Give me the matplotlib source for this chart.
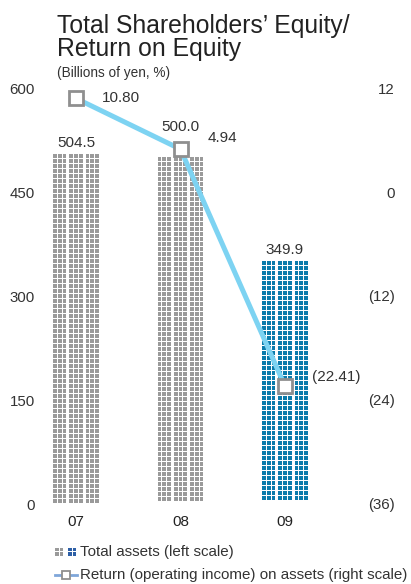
import matplotlib
matplotlib.use("Agg")
import matplotlib.pyplot as plt
from matplotlib.patches import Rectangle
from matplotlib.collections import PatchCollection
from matplotlib.lines import Line2D

# ---- data ----
years = ["07", "08", "09"]
equity = [504.5, 500.0, 349.9]                 # billions of yen (left scale)
roe = [10.80, 4.94, -22.41]                    # % (right scale)
roe_labels = ["10.80", "4.94", "(22.41)"]
left_ticks = [0, 150, 300, 450, 600]
left_tick_labels = ["0", "150", "300", "450", "600"]
right_ticks = [-36, -24, -12, 0, 12]
right_tick_labels = ["(36)", "(24)", "(12)", "0", "12"]

# ---- styling ----
plt.rcParams["font.family"] = ["Liberation Sans", "DejaVu Sans"]
GRAY = "#9a9a9a"
BLUE = "#0a7bab"
LEG_BLUE = "#2d5fa6"
LINE = "#7dd3f2"
MARK_EDGE = "#8f8f8f"
TXT = "#333333"

W, H = 411, 584
fig = plt.figure(figsize=(W / 100, H / 100), dpi=100)

AX_L, AX_B, AX_W, AX_H = 40, 80, 330, 416
X_PITCH = 104.5                      # px between bar centres
ax = fig.add_axes([AX_L / W, AX_B / H, AX_W / W, AX_H / H])
ax.set_ylim(0, 600)
ax.set_xlim(-36 / X_PITCH, 2 + (AX_L + AX_W - 285) / X_PITCH)

# pixel -> data conversions
xs = 1.0 / X_PITCH
ys = 600.0 / AX_H

# mosaic bars: 3 groups of 3 small squares per row
CELL_W, IN_PITCH, GRP_PITCH = 3.7, 4.7, 16.3
ROW_PITCH, CELL_H = 5.0, 3.6
bar_w_px = 2 * GRP_PITCH + 2 * IN_PITCH + CELL_W

bar_colors = [GRAY, GRAY, BLUE]
bar_label_dy = [11, 30, 11]          # px above bar top
for i, (v, c, dy) in enumerate(zip(equity, bar_colors, bar_label_dy)):
    left = i - bar_w_px / 2 * xs
    cells = []
    r = 0
    while True:
        top = v - r * ROW_PITCH * ys
        bottom = top - CELL_H * ys
        if bottom < 0:
            break
        for g in range(3):
            for k in range(3):
                x0 = left + (g * GRP_PITCH + k * IN_PITCH) * xs
                cells.append(Rectangle((x0, bottom), CELL_W * xs, CELL_H * ys))
        r += 1
    ax.add_collection(PatchCollection(cells, facecolor=c, edgecolor="none"))
    ax.annotate(f"{v:.1f}", (i, v), xytext=(0, dy / 1.389), textcoords="offset points",
                ha="center", va="center", fontsize=11, color=TXT)

ax.set_xticks(range(len(years)))
ax.set_xticklabels(years, fontsize=11, color="#222222")
ax.set_yticks(left_ticks)
ax.set_yticklabels(left_tick_labels, fontsize=10.8, color=TXT)
ax.tick_params(axis="x", length=0, pad=8)
ax.tick_params(axis="y", length=0, pad=3.6)
for s in ax.spines.values():
    s.set_visible(False)

ax2 = ax.twinx()
ax2.set_ylim(-36, 12)
ax2.plot(range(len(roe)), roe, color=LINE, lw=3.6, solid_capstyle="butt",
         marker="s", ms=10, mfc="white", mec=MARK_EDGE, mew=2, zorder=3)
roe_offsets = [(26, 0), (27, 11), (27, 9)]     # px offsets for the value labels
for i, (val, lab, (dx, dy)) in enumerate(zip(roe, roe_labels, roe_offsets)):
    ax2.annotate(lab, (i, val), xytext=(dx / 1.389, dy / 1.389), textcoords="offset points",
                 ha="left", va="center", fontsize=11, color=TXT)
ax2.set_yticks(right_ticks)
ax2.set_yticklabels(right_tick_labels, fontsize=10.8, color=TXT, ha="right")
ax2.tick_params(axis="y", length=0, pad=18)
for s in ax2.spines.values():
    s.set_visible(False)

# ---- titles ----
def fx(px):
    return px / W

def fy(py):
    return 1 - py / H

fig.text(fx(57), fy(33), "Total Shareholders’ Equity/", fontsize=17.8, color="#222222", va="baseline")
fig.text(fx(57), fy(56), "Return on Equity", fontsize=17.8, color="#222222", va="baseline")
fig.text(fx(57), fy(77), "(Billions of yen, %)", fontsize=9.8, color=TXT, va="baseline")

# ---- legend ----
def grid_icon(x0, y0, color):
    s, gap = 3.5, 1.0
    for a in range(2):
        for b in range(2):
            fig.patches.append(Rectangle((fx(x0 + a * (s + gap)), fy(y0 + (b + 1) * s + b * gap)),
                                         s / W, s / H, transform=fig.transFigure,
                                         facecolor=color, edgecolor="none"))

grid_icon(55, 547.5, GRAY)
grid_icon(68, 547.5, LEG_BLUE)
fig.text(fx(80), fy(552), "Total assets (left scale)", fontsize=10.9, color=TXT, va="center")

fig.add_artist(Line2D([fx(55), fx(77)], [fy(575), fy(575)], transform=fig.transFigure,
                      color="#7fa6d9", lw=2))
fig.add_artist(Line2D([fx(66)], [fy(575)], transform=fig.transFigure, marker="s", ms=6,
                      mfc="white", mec=MARK_EDGE, mew=1.3, lw=0))
fig.text(fx(80), fy(575), "Return (operating income) on assets (right scale)", fontsize=10.9,
         color=TXT, va="center")

fig.savefig("out.png", dpi=100)
